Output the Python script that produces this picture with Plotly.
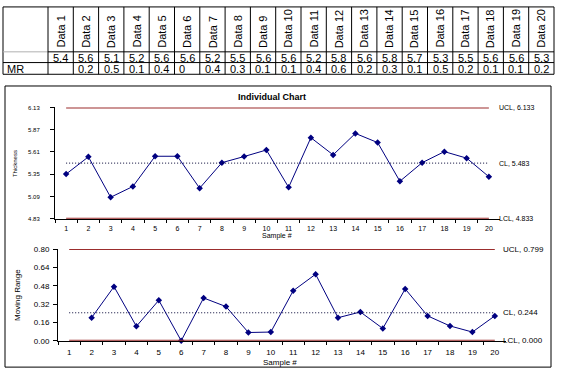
import plotly.graph_objects as go

# ---------------- data ----------------
samples = list(range(1, 21))
thickness = [5.355, 5.556, 5.084, 5.210, 5.563, 5.563, 5.190, 5.488, 5.560, 5.636,
             5.200, 5.780, 5.579, 5.830, 5.723, 5.271, 5.488, 5.617, 5.541, 5.324]
mr_samples = list(range(2, 21))
moving_range = [0.201, 0.472, 0.126, 0.353, 0.000, 0.373, 0.298, 0.072, 0.076, 0.436,
                0.580, 0.201, 0.251, 0.107, 0.452, 0.217, 0.129, 0.076, 0.217]

ind_ucl, ind_cl, ind_lcl = 6.133, 5.483, 4.833
mr_ucl, mr_cl, mr_lcl = 0.799, 0.244, 0.000

ind_tickvals = [4.833, 5.093, 5.353, 5.613, 5.873, 6.133]
ind_ticktext = ["4.83", "5.09", "5.35", "5.61", "5.87", "6.13"]
mr_tickvals = [0.0, 0.16, 0.32, 0.48, 0.64, 0.80]
mr_ticktext = ["0.00", "0.16", "0.32", "0.48", "0.64", "0.80"]

table_headers = ["Data %d" % i for i in samples]
table_values = ["5.4", "5.6", "5.1", "5.2", "5.6", "5.6", "5.2", "5.5", "5.6", "5.6",
                "5.2", "5.8", "5.6", "5.8", "5.7", "5.3", "5.5", "5.6", "5.6", "5.3"]
table_mr = ["", "0.2", "0.5", "0.1", "0.4", "0", "0.4", "0.3", "0.1", "0.1",
            "0.4", "0.6", "0.2", "0.3", "0.1", "0.5", "0.2", "0.1", "0.1", "0.2"]

# ---------------- helpers ----------------
W, H = 563, 377
def px(x):
    return x / W
def py(y):
    return 1 - y / H

FONT = "Liberation Sans, Arial, sans-serif"
NAVY = "#000080"
RED = "#9B2D2D"

fig = go.Figure()

fig.add_trace(go.Scatter(
    x=samples, y=thickness, mode="lines+markers", xaxis="x", yaxis="y",
    line=dict(color=NAVY, width=1),
    marker=dict(symbol="diamond", size=5, color=NAVY),
    showlegend=False, cliponaxis=False))
fig.add_trace(go.Scatter(
    x=mr_samples, y=moving_range, mode="lines+markers", xaxis="x2", yaxis="y2",
    line=dict(color=NAVY, width=1),
    marker=dict(symbol="diamond", size=5, color=NAVY),
    showlegend=False, cliponaxis=False))

shapes = []
annotations = []

def note(x, y, text, size, angle=0, xa="center", ya="middle"):
    annotations.append(dict(x=px(x), y=py(y), xref="paper", yref="paper", text=text, textangle=angle,
                            xanchor=xa, yanchor=ya, showarrow=False,
                            font=dict(family=FONT, size=size, color="#000")))

# control lines
for xr, yr, u, c, l in [("x", "y", ind_ucl, ind_cl, ind_lcl), ("x2", "y2", mr_ucl, mr_cl, mr_lcl)]:
    for val, col, dash, wd in [(u, RED, "solid", 2), (l, RED, "solid", 2), (c, "#000033", "1px,2px", 1)]:
        shapes.append(dict(type="line", xref=xr, yref=yr, x0=1, x1=20, y0=val, y1=val,
                           line=dict(color=col, width=wd, dash=dash), layer="above"))

# control line labels
for val, txt in [(ind_ucl, "UCL, %.3f" % ind_ucl), (ind_cl, "CL, %.3f" % ind_cl), (ind_lcl, "LCL, %.3f" % ind_lcl)]:
    annotations.append(dict(x=px(497), xref="paper", y=val, yref="y", text=txt, showarrow=False,
                            xanchor="left", yanchor="middle", font=dict(family=FONT, size=7, color="#000")))
for val, txt in [(mr_ucl, "UCL, %.3f" % mr_ucl), (mr_cl, "CL, %.3f" % mr_cl), (mr_lcl, "LCL, %.3f" % mr_lcl)]:
    annotations.append(dict(x=px(501), xref="paper", y=val, yref="y2", text=txt, showarrow=False,
                            xanchor="left", yanchor="middle", font=dict(family=FONT, size=8, color="#000")))

# chart box
shapes.append(dict(type="rect", xref="paper", yref="paper", x0=px(5), x1=px(551), y0=py(372), y1=py(84),
                   line=dict(color="#000", width=1)))

# titles
note(272, 95, "<b>Individual Chart</b>", 9)
note(277, 238, "Sample #", 7)
note(280, 367, "Sample #", 8)
note(15, 163, "Thickness", 6, angle=-90)
note(18, 298, "Moving Range", 8, angle=-90)

# ---------------- table ----------------
tx0, tlab, tx1 = 3, 48, 554
ty0, ty1, ty2, ty3 = 3, 49, 60, 72
colw = (tx1 - tlab) / len(table_headers)
line_k = dict(color="#000", width=1)
shapes.append(dict(type="rect", xref="paper", yref="paper", x0=px(tx0), x1=px(tx1), y0=py(ty3), y1=py(ty0), line=line_k))
shapes.append(dict(type="line", xref="paper", yref="paper", x0=px(tx0), x1=px(tlab), y0=py(ty1), y1=py(ty1),
                   line=dict(color="#b0b0b0", width=1)))
shapes.append(dict(type="line", xref="paper", yref="paper", x0=px(tlab), x1=px(tx1), y0=py(ty1), y1=py(ty1), line=line_k))
shapes.append(dict(type="line", xref="paper", yref="paper", x0=px(tx0), x1=px(tx1), y0=py(ty2), y1=py(ty2), line=line_k))
for i in range(len(table_headers)):
    xl = tlab + i * colw
    shapes.append(dict(type="line", xref="paper", yref="paper", x0=px(xl), x1=px(xl), y0=py(ty3), y1=py(ty0), line=line_k))
    xc = xl + colw / 2
    note(xc, 47, table_headers[i], 11, angle=-90, ya="bottom")
    note(xc, (ty1 + ty2) / 2 + 0.5, table_values[i], 11)
    if table_mr[i]:
        note(xl + 3, (ty2 + ty3) / 2 + 0.5, table_mr[i], 11, xa="left")
note(tx0 + 2, (ty2 + ty3) / 2 + 0.5, "MR", 11, xa="left")

axis_common = dict(showgrid=False, zeroline=False, showline=True, linecolor="#000", linewidth=1,
                   ticks="outside", tickcolor="#000", ticklen=4, fixedrange=True)
minor_ticks = dict(tickmode="array", tickvals=[i + 0.5 for i in range(0, 20)], ticks="outside",
                   ticklen=3, tickcolor="#000")

fig.update_layout(
    width=W, height=H, autosize=False,
    margin=dict(l=0, r=0, t=0, b=0),
    paper_bgcolor="white", plot_bgcolor="white",
    showlegend=False,
    shapes=shapes, annotations=annotations,
    xaxis=dict(axis_common, domain=[px(55), px(500)], range=[0.5, 20.5], anchor="y",
               tickmode="array", tickvals=samples, ticks="", ticklabelstandoff=3,
               tickfont=dict(family=FONT, size=7, color="#000"), minor=minor_ticks),
    yaxis=dict(axis_common, domain=[py(220), py(106)], range=[4.833, 6.133], anchor="x",
               tickmode="array", tickvals=ind_tickvals, ticktext=ind_ticktext, ticklabelstandoff=9,
               tickfont=dict(family=FONT, size=6, color="#000")),
    xaxis2=dict(axis_common, domain=[px(58), px(506)], range=[0.5, 20.5], anchor="y2",
                tickmode="array", tickvals=samples, ticks="", ticklabelstandoff=4,
                tickfont=dict(family=FONT, size=8, color="#000"), minor=minor_ticks),
    yaxis2=dict(axis_common, domain=[py(345), py(251)], range=[0, 0.8], anchor="x2",
                tickmode="array", tickvals=mr_tickvals, ticktext=mr_ticktext, ticklabelstandoff=2,
                tickfont=dict(family=FONT, size=8, color="#000")),
)

fig.write_html("out.html", config={"displayModeBar": False},
               post_script="document.body.style.margin='0';document.body.style.overflow='hidden';")
